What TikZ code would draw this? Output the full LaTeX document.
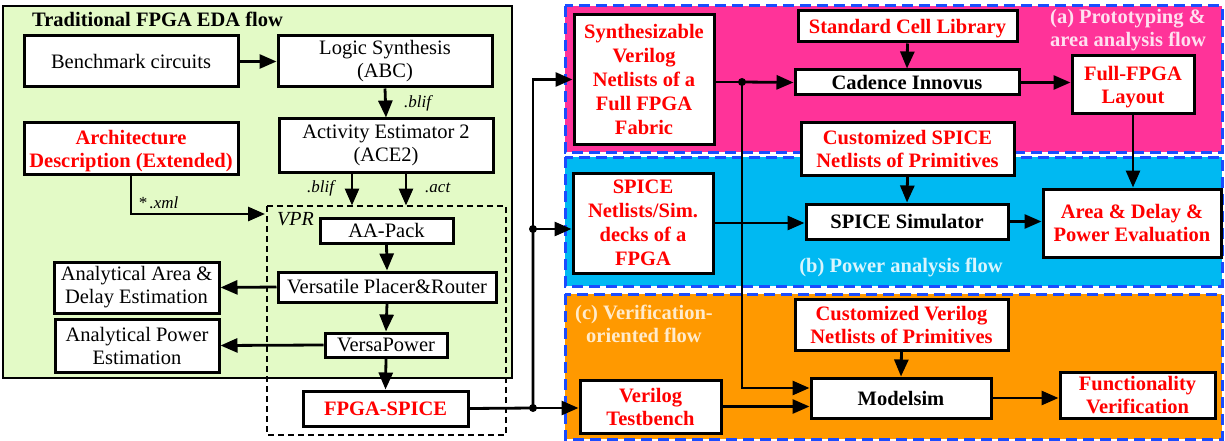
\documentclass[tikz,border=0pt]{standalone}
\usepackage{fontspec}
\setmainfont{Liberation Serif}
\usetikzlibrary{arrows.meta,positioning}
\definecolor{panelgreen}{RGB}{227,250,198}
\definecolor{panelpink}{RGB}{255,51,153}
\definecolor{panelcyan}{RGB}{0,185,242}
\definecolor{panelorange}{RGB}{255,153,0}
\definecolor{dashblue}{RGB}{26,76,255}
\newcommand{\boxfont}{\fontsize{20.5}{23}\selectfont}
\newcommand{\tagfont}{\fontsize{17}{19}\selectfont\itshape}

\begin{document}
\begin{tikzpicture}[x=1pt,y=-1pt,
    blk/.style={draw, line width=3pt, fill=white, align=center, inner sep=0pt, font=\boxfont},
    boldblk/.style={blk, font=\boxfont\bfseries, text depth=0pt},
    redblk/.style={boldblk, text=red},
    arr/.style={line width=2.8pt, -{Triangle[length=17pt,width=14pt]}},
    link/.style={line width=2.8pt},
    panel/.style={draw=dashblue, line width=3pt, dash pattern=on 11pt off 6pt},
    flowtag/.style={font=\boxfont\bfseries, align=center},
    ftype/.style={font=\tagfont, inner sep=0pt, anchor=base west}]
    \useasboundingbox (0,0) rectangle (1225,441);

    % traditional flow
    \filldraw[fill=panelgreen, draw=black, line width=1.4pt] (3,6) rectangle (512,378);
    \draw[dashed, line width=1.3pt, dash pattern=on 6pt off 4pt] (267,206) rectangle (506,435);
    \node[anchor=west, font=\boxfont\bfseries, inner sep=0pt] (title) at (32,19) {Traditional FPGA EDA flow};
    \node[font=\fontsize{20}{22}\selectfont\itshape, inner sep=0pt, anchor=base west] (vprtag) at (277,225) {VPR};

    \node[blk, minimum width=214pt, minimum height=51pt] (bench) at (131,61.5) {Benchmark circuits};
    \node[blk, minimum width=214pt, minimum height=51pt] (logic) at (385,61.5) {Logic Synthesis\\(ABC)};
    \node[blk, minimum width=214pt, minimum height=53pt] (ace) at (386,145.5) {Activity Estimator 2\\(ACE2)};
    \node[redblk, minimum width=214pt, minimum height=51pt] (arch) at (131,148.5) {Architecture\\Description (Extended)};
    \node[blk, minimum width=133pt, minimum height=25pt] (aapack) at (386.5,230.5) {AA-Pack};
    \node[blk, minimum width=218pt, minimum height=30pt] (router) at (387,287) {Versatile Placer\&Router};
    \node[blk, minimum width=122pt, minimum height=24pt] (vpower) at (386,345) {VersaPower};
    \node[redblk, minimum width=165pt, minimum height=35pt] (fspice) at (385.5,408.5) {FPGA-SPICE};
    \node[blk, minimum width=165pt, minimum height=51pt] (areaest) at (136.5,287.5) {Analytical Area \&\\Delay Estimation};
    \node[blk, minimum width=164pt, minimum height=53pt] (powerest) at (137,345.5) {Analytical Power\\Estimation};

    \draw[arr] (bench.east) -- (logic.west);
    \draw[arr] (logic.south) -- (ace.north);
    \draw[arr] ([xshift=-34pt]ace.south) -- ++(0,32);
    \draw[arr] ([xshift=20pt]ace.south) -- ++(0,32);
    \coordinate (vprin) at (265,214);
    \draw[arr] (arch.south) |- (vprin);
    \draw[arr] (aapack.south) -- (router.north);
    \draw[arr] (router.south) -- (vpower.north);
    \draw[arr] (vpower.south) -- (fspice.north);
    \draw[arr] (router.west) -- (areaest.east);
    \draw[arr] (vpower.west) -- (powerest.east);

    \node[ftype] at (404,107) {.blif};
    \node[ftype] at (307,192) {.blif};
    \node[ftype] at (425,192) {.act};
    \node[ftype] at (138,208) {*\,.xml};

    % three flows
    \filldraw[fill=panelpink, panel] (565,6) rectangle (1222,152);
    \filldraw[fill=panelcyan, panel] (565,157) rectangle (1222,286);
    \filldraw[fill=panelorange, panel] (565,294) rectangle (1222,439);

    \node[flowtag, text=white!85!panelpink] at (1128,30) {(a) Prototyping \&\\area analysis flow};
    \node[flowtag, text=white!85!panelcyan] at (901,267) {(b) Power analysis flow};
    \node[flowtag, text=white!80!panelorange] at (644,324) {(c) Verification-\\oriented flow};

    \node[redblk, minimum width=140pt, minimum height=129pt, font=\fontsize{20.5}{24}\selectfont\bfseries] (synth) at (644,79.5) {Synthesizable\\Verilog\\Netlists of a\\Full FPGA\\Fabric};
    \node[redblk, minimum width=219pt, minimum height=31pt] (stdcell) at (907.5,26.5) {Standard Cell Library};
    \node[boldblk, minimum width=224pt, minimum height=25pt] (cadence) at (907,82.5) {Cadence Innovus};
    \node[redblk, minimum width=122pt, minimum height=58pt] (layout) at (1133,85) {Full-FPGA\\Layout};
    \node[redblk, minimum width=213pt, minimum height=52pt] (cspice) at (907.5,149) {Customized SPICE\\Netlists of Primitives};
    \node[redblk, minimum width=140pt, minimum height=100pt, font=\fontsize{20.5}{24}\selectfont\bfseries] (spnet) at (643,223) {SPICE\\Netlists/Sim.\\decks of a\\FPGA};
    \node[boldblk, minimum width=202pt, minimum height=35pt] (spsim) at (907,221.5) {SPICE Simulator};
    \node[redblk, minimum width=178pt, minimum height=68pt] (area) at (1132,223) {Area \& Delay \&\\Power Evaluation};
    \node[redblk, minimum width=213pt, minimum height=51pt] (cverilog) at (901.5,324.5) {Customized Verilog\\Netlists of Primitives};
    \node[redblk, minimum width=141pt, minimum height=53pt] (tb) at (650.5,406.5) {Verilog\\Testbench};
    \node[boldblk, minimum width=180pt, minimum height=40pt] (msim) at (901,398) {Modelsim};
    \node[redblk, minimum width=155pt, minimum height=46pt] (func) at (1137.5,395) {Functionality\\Verification};

    \coordinate (j1) at (533,408);
    \coordinate (j2) at (533,229);
    \coordinate (j3) at (742,82);

    \draw[link] (fspice.east) -- (j1) -- (j2);
    \draw[arr] (j2) |- (synth.west);
    \draw[arr] (j2) -- (j2 -| spnet.west);
    \draw[arr] (j1) -- (j1 -| tb.west);
    \draw[link] (synth.east |- j3) -- (j3);
    \draw[arr] (j3) -- (cadence.west);
    \draw[arr] (j3) |- ([yshift=10pt]msim.west);
    \draw[arr] (tb.east) -- (tb.east -| msim.west);
    \draw[arr] (stdcell.south) -- (cadence.north);
    \draw[arr] (cadence.east) -- (cadence.east -| layout.west);
    \draw[arr] (layout.south) -- (layout.south |- area.north);
    \draw[arr] (cspice.south) -- (spsim.north);
    \draw[arr] (spnet.east) -- (spnet.east -| spsim.west);
    \draw[arr] (spsim.east) -- (spsim.east -| area.west);
    \draw[arr] (cverilog.south) -- (msim.north);
    \draw[arr] (msim.east) -- (msim.east -| func.west);

    \fill (j1) circle (4pt);
    \fill (j2) circle (4pt);
    \fill (j3) circle (4pt);
\end{tikzpicture}
\end{document}
